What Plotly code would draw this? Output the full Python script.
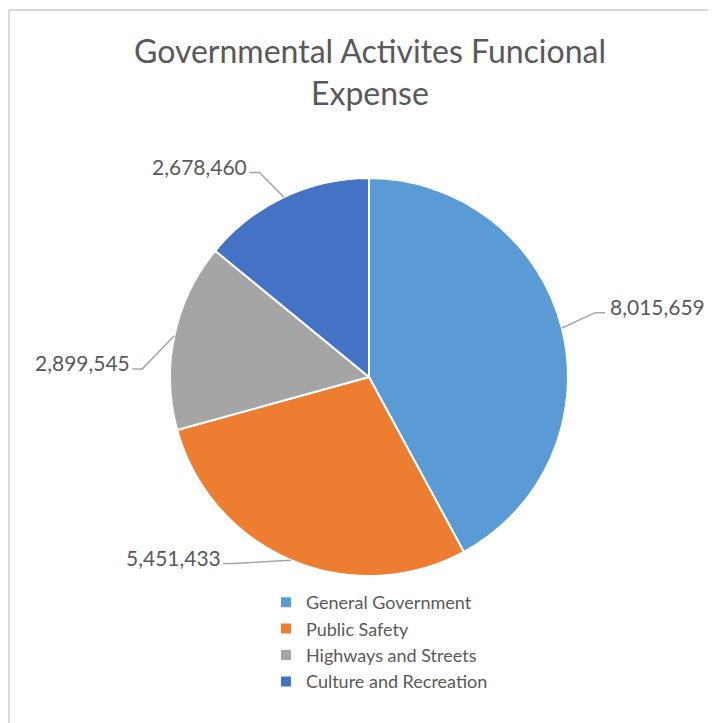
import math
import plotly.graph_objects as go

# ---- data ----
categories = ["General Government", "Public Safety", "Highways and Streets", "Culture and Recreation"]
values = [8015659, 5451433, 2899545, 2678460]
colors = ["#5B9BD5", "#ED7D31", "#A5A5A5", "#4472C4"]
title_lines = ["Governmental Activites Funcional", "Expense"]

# ---- layout constants (window pixels) ----
OFF = 8                       # default page body margin
W, H = 716 - OFF, 723 - OFF   # figure size
CX, CY, R = 369, 377, 199
label_angle_offset = [-1.0, 15, -10, -5]     # degrees, label placement tweak
label_radius = [1.23, 1.19, 1.19, 1.19]       # multiples of R
TEXT = "#595959"
FONT = "Lato"


def px(x):
    return (x - OFF) / W


def py(y):
    return 1 - (y - OFF) / H


fig = go.Figure()
fig.add_trace(go.Pie(
    labels=categories,
    values=values,
    sort=False,
    direction="clockwise",
    rotation=0,
    marker=dict(colors=colors, line=dict(color="white", width=2)),
    textinfo="none",
    hoverinfo="label+value",
    domain=dict(x=[px(CX - R), px(CX + R)], y=[py(CY + R), py(CY - R)]),
))

shapes = []
annotations = []
total = sum(values)
cum = 0.0
for i, v in enumerate(values):
    mid = (cum + v / 2) / total * 360.0
    cum += v
    a = math.radians(mid)
    ex, ey = CX + R * math.sin(a), CY - R * math.cos(a)
    la = math.radians(mid + label_angle_offset[i])
    tx = CX + label_radius[i] * R * math.sin(la)
    ty = CY - label_radius[i] * R * math.cos(la)
    right = math.sin(la) > 0
    elbow_x = tx - 10 if right else tx + 10
    shapes.append(dict(type="path", xref="paper", yref="paper",
                       path=f"M {px(ex)} {py(ey)} L {px(elbow_x)} {py(ty)} L {px(tx)} {py(ty)}",
                       line=dict(color="#A6A6A6", width=1.5)))
    annotations.append(dict(
        x=px(tx + (3 if right else 0)), y=py(ty - 6), xref="paper", yref="paper",
        text=f"{v:,}", showarrow=False,
        xanchor="left" if right else "right", yanchor="middle",
        font=dict(family=FONT, size=21, color=TEXT)))

# title
for line, yc in zip(title_lines, [50, 93]):
    annotations.append(dict(x=px(369.5), y=py(yc), xref="paper", yref="paper",
                            text=line, showarrow=False, xanchor="center", yanchor="middle",
                            font=dict(family=FONT, size=32, color=TEXT)))

# chart border (top and left edges visible)
shapes.append(dict(type="line", xref="paper", yref="paper", x0=px(9), x1=1.01, y0=py(10), y1=py(10),
                   line=dict(color="#D9D9D9", width=2)))
shapes.append(dict(type="line", xref="paper", yref="paper", x0=px(9), x1=px(9), y0=py(10), y1=-0.01,
                   line=dict(color="#D9D9D9", width=2)))

fig.update_layout(
    width=W, height=H,
    margin=dict(l=0, r=0, t=0, b=0),
    paper_bgcolor="white", plot_bgcolor="white",
    showlegend=True,
    legend=dict(x=px(266), y=py(584), xanchor="left", yanchor="top",
                font=dict(family=FONT, size=18, color=TEXT),
                bgcolor="rgba(0,0,0,0)", traceorder="normal"),
    shapes=shapes,
    annotations=annotations,
)

fig.write_html("out.html")
